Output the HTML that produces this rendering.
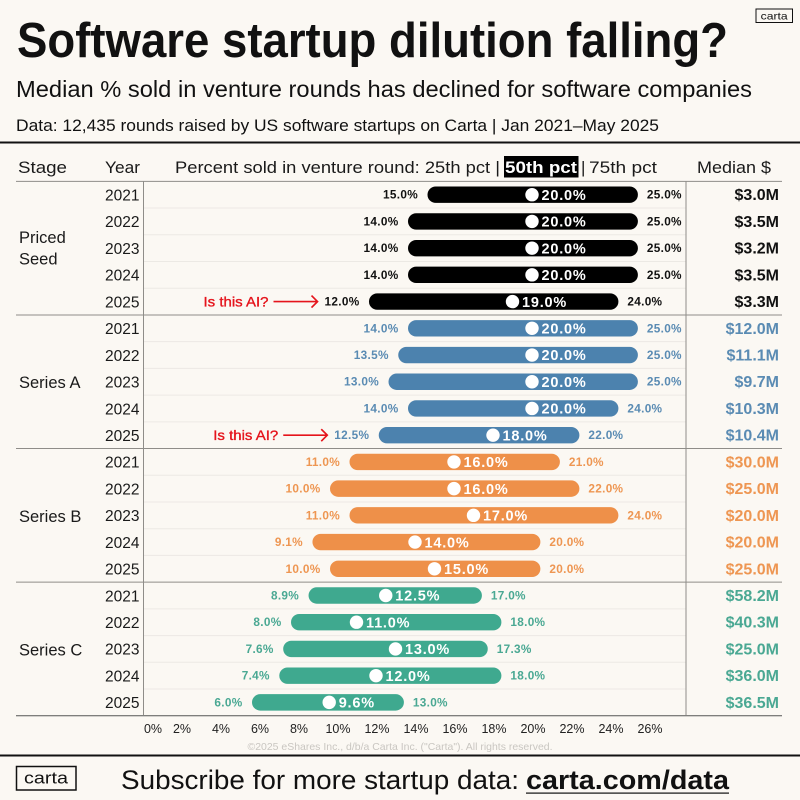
<!DOCTYPE html>
<html lang="en">
<head>
<meta charset="utf-8">
<title>Software startup dilution falling?</title>
<style>
html,body{margin:0;padding:0;background:#fbf8f3;}
svg{display:block;font-family:"Liberation Sans",sans-serif;}
</style>
</head>
<body>
<svg id="chart" xmlns="http://www.w3.org/2000/svg" width="800" height="800" viewBox="0 0 800 800">
  <rect x="0" y="0" width="800" height="800" fill="#fbf8f3"/>
  <g fill="#111">
    <text x="17" y="57" font-size="49" font-weight="700" textLength="711" lengthAdjust="spacingAndGlyphs">Software startup dilution falling?</text>
    <text x="16" y="97" font-size="23.5" textLength="736" lengthAdjust="spacingAndGlyphs">Median % sold in venture rounds has declined for software companies</text>
    <text x="16" y="131" font-size="17" textLength="643" lengthAdjust="spacingAndGlyphs">Data: 12,435 rounds raised by US software startups on Carta  |  Jan 2021–May 2025</text>
    <g>
      <rect x="756" y="9" width="36.5" height="13.5" fill="none" stroke="#111" stroke-width="1"/>
      <text x="774.2" y="19.5" font-size="10.5" text-anchor="middle" textLength="27" lengthAdjust="spacingAndGlyphs">carta</text>
    </g>
  </g>
  <rect x="0" y="141.5" width="800" height="2" fill="#111"/>
  <g fill="#1a1a1a" font-size="17">
    <text x="18" y="173" textLength="49" lengthAdjust="spacingAndGlyphs">Stage</text>
    <text x="105" y="173" textLength="35" lengthAdjust="spacingAndGlyphs">Year</text>
    <text x="175" y="173" textLength="325" lengthAdjust="spacingAndGlyphs">Percent sold in venture round: 25th pct |</text>
    <rect x="504" y="156" width="74.5" height="21.5" fill="#000"/>
    <text x="505" y="173" font-weight="700" fill="#fff" textLength="72" lengthAdjust="spacingAndGlyphs">50th pct</text>
    <text x="581" y="173">|</text>
    <text x="589" y="173" textLength="68" lengthAdjust="spacingAndGlyphs">75th pct</text>
    <text x="697" y="173" textLength="74" lengthAdjust="spacingAndGlyphs">Median $</text>
  </g>
  <g id="grid"></g>
  <g id="stages" fill="#1a1a1a" font-size="16.5"></g>
  <g id="rows"></g>
  <g id="axis" fill="#222" font-size="12.5"></g>
  <text x="400" y="750" font-size="10.5" fill="#c9c6c1" text-anchor="middle" textLength="305" lengthAdjust="spacingAndGlyphs">©2025 eShares Inc., d/b/a Carta Inc. ("Carta"). All rights reserved.</text>
  <rect x="0" y="754.5" width="800" height="2" fill="#111"/>
  <g fill="#111">
    <g>
      <rect x="16.5" y="766.5" width="59.5" height="23.5" fill="none" stroke="#111" stroke-width="1.5"/>
      <text x="46" y="783.5" font-size="17" text-anchor="middle" textLength="44" lengthAdjust="spacingAndGlyphs">carta</text>
    </g>
    <text x="121" y="789" font-size="27" textLength="398" lengthAdjust="spacingAndGlyphs">Subscribe for more startup data:</text>
    <text x="526" y="789" font-size="27" font-weight="700" textLength="203" lengthAdjust="spacingAndGlyphs">carta.com/data</text>
    <rect x="526" y="792.5" width="203" height="1.2" fill="#111"/>
  </g>
</svg>
<script>
// Chart data
const stageNames = ["Priced Seed", "Series A", "Series B", "Series C"];
const years = [2021, 2022, 2023, 2024, 2025];
const p25Values = [
  [15, 14, 14, 14, 12],
  [14, 13.5, 13, 14, 12.5],
  [11, 10, 11, 9.1, 10],
  [8.9, 8, 7.6, 7.4, 6]
];
const p50Values = [
  [20, 20, 20, 20, 19],
  [20, 20, 20, 20, 18],
  [16, 16, 17, 14, 15],
  [12.5, 11, 13, 12, 9.6]
];
const p75Values = [
  [25, 25, 25, 25, 24],
  [25, 25, 25, 24, 22],
  [21, 22, 24, 20, 20],
  [17, 18, 17.3, 18, 13]
];
const medianDollars = [
  ["$3.0M", "$3.5M", "$3.2M", "$3.5M", "$3.3M"],
  ["$12.0M", "$11.1M", "$9.7M", "$10.3M", "$10.4M"],
  ["$30.0M", "$25.0M", "$20.0M", "$20.0M", "$25.0M"],
  ["$58.2M", "$40.3M", "$25.0M", "$36.0M", "$36.5M"]
];
const axisTicks = [0, 2, 4, 6, 8, 10, 12, 14, 16, 18, 20, 22, 24, 26];
const stageColors = ["#000000", "#4c82ae", "#ee9049", "#3fa98f"];
const labelColors = ["#111111", "#5a8bb3", "#ee9652", "#4aa893"];
const annotatedStages = [0, 1];

// Axis functions
const SVGNS = "http://www.w3.org/2000/svg";
function xScale(p) { return 142 + p * 19.5; }
function rowY(stage, yearIndex) { return 194.7 + (stage * 5 + yearIndex) * 26.72; }
function make(tag, parent, attrs) {
  const el = document.createElementNS(SVGNS, tag);
  for (const k in attrs) el.setAttribute(k, attrs[k]);
  parent.appendChild(el);
  return el;
}
const grid = document.getElementById("grid");
const stagesGroup = document.getElementById("stages");
const rowsGroup = document.getElementById("rows");
const axisGroup = document.getElementById("axis");
const capLeft = 7;
const capRight = 8.4;

// Thin row separators
for (let s = 0; s < stageNames.length; s++) {
  for (let y = 0; y < years.length - 1; y++) {
    const ly = rowY(s, y) + 13.36;
    const rowLine = make("line", grid, {x1: 144, x2: 686, y1: ly, y2: ly, stroke: "#ece9e4", "stroke-width": 1});
    
    
  }
}
// Section rules
for (let s = 0; s <= stageNames.length; s++) {
  const sy = rowY(s, 0) - 13.36;
  const sectionLine = make("line", grid, {x1: 16, x2: 782, y1: sy, y2: sy, stroke: s === 4 ? "#555" : "#8f8d89", "stroke-width": 1});
  
  
}
// Vertical rules
[143.5, 686].forEach(function (vx) {
  const vLine = make("line", grid, {x1: vx, x2: vx, y1: rowY(0, 0) - 13.36, y2: rowY(3, 4) + 13.36, stroke: "#8f8d89", "stroke-width": 1});
  
  
});

// Stage labels
stageNames.forEach(function (name, s) {
  const cy = rowY(s, 2);
  const parts = name.split(" ");
  if (s === 0) {
    parts.forEach(function (part, i) {
      const t = make("text", stagesGroup, {x: 19, y: 243 + i * 21.5});
      
      
      t.textContent = part;
    });
  } else {
    const t = make("text", stagesGroup, {x: 19, y: cy + 6.5});
    
    
    t.textContent = name;
  }
});

// Rows
stageNames.forEach(function (name, s) {
  years.forEach(function (year, y) {
    const cy = rowY(s, y);
    const lo = p25Values[s][y], mid = p50Values[s][y], hi = p75Values[s][y];
    const yearText = make("text", rowsGroup, {x: 139.5, y: cy + 5.8, "font-size": 15.5, fill: "#1a1a1a", "text-anchor": "end"});
    
    
    yearText.textContent = year;

    const bar = make("rect", rowsGroup, {x: xScale(lo) - capLeft, y: cy - 8.2, width: xScale(hi) - xScale(lo) + capLeft + capRight, height: 16.4, rx: 8.2, ry: 8.2, fill: stageColors[s]});
    
    

    const dot = make("circle", rowsGroup, {cx: xScale(mid), cy: cy, r: 6.7, fill: "#fff"});
    
    

    const midText = make("text", rowsGroup, {x: xScale(mid) + 9.5, y: cy + 5.2, "font-size": 14.5, "font-weight": 700, fill: "#fff", "letter-spacing": 0.8});
    
    
    midText.textContent = mid.toFixed(1) + "%";

    const loText = make("text", rowsGroup, {x: xScale(lo) - capLeft - 9.5, y: cy + 4, "font-size": 11.8, "font-weight": 700, fill: labelColors[s], "text-anchor": "end", "letter-spacing": 0.3});
    
    
    loText.textContent = lo.toFixed(1) + "%";

    const hiText = make("text", rowsGroup, {x: xScale(hi) + capRight + 9, y: cy + 4, "font-size": 11.8, "font-weight": 700, fill: labelColors[s], "letter-spacing": 0.3});
    
    
    hiText.textContent = hi.toFixed(1) + "%";

    const dollarText = make("text", rowsGroup, {x: 779, y: cy + 5.5, "font-size": 16, "font-weight": 700, fill: labelColors[s], "text-anchor": "end"});
    
    
    dollarText.textContent = medianDollars[s][y];
  });
});

// "Is this AI?" annotations
annotatedStages.forEach(function (s) {
  const cy = rowY(s, 4);
  const tip = xScale(p25Values[s][4]) - capLeft - 51.5;
  const aiText = make("text", rowsGroup, {x: tip - 49, y: cy + 5, "font-size": 14, "font-weight": 400, fill: "#e5141c", stroke: "#e5141c", "stroke-width": 0.35, "text-anchor": "end", textLength: 65, lengthAdjust: "spacingAndGlyphs"});
  
  
  aiText.textContent = "Is this AI?";
  const arrow = make("path", rowsGroup, {d: "M" + (tip - 44) + " " + cy + "H" + tip + "M" + (tip - 6) + " " + (cy - 6) + "L" + tip + " " + cy + "L" + (tip - 6) + " " + (cy + 6), fill: "none", stroke: "#e5141c", "stroke-width": 1.7});
  
  
});

// X axis tick labels
axisTicks.forEach(function (tick, i) {
  const tx = i === 0 ? xScale(tick) + 11 : xScale(tick) + 1;
  const tickText = make("text", axisGroup, {x: tx, y: 733, "text-anchor": "middle"});
  
  
  tickText.textContent = tick + "%";
});
</script>
</body>
</html>
